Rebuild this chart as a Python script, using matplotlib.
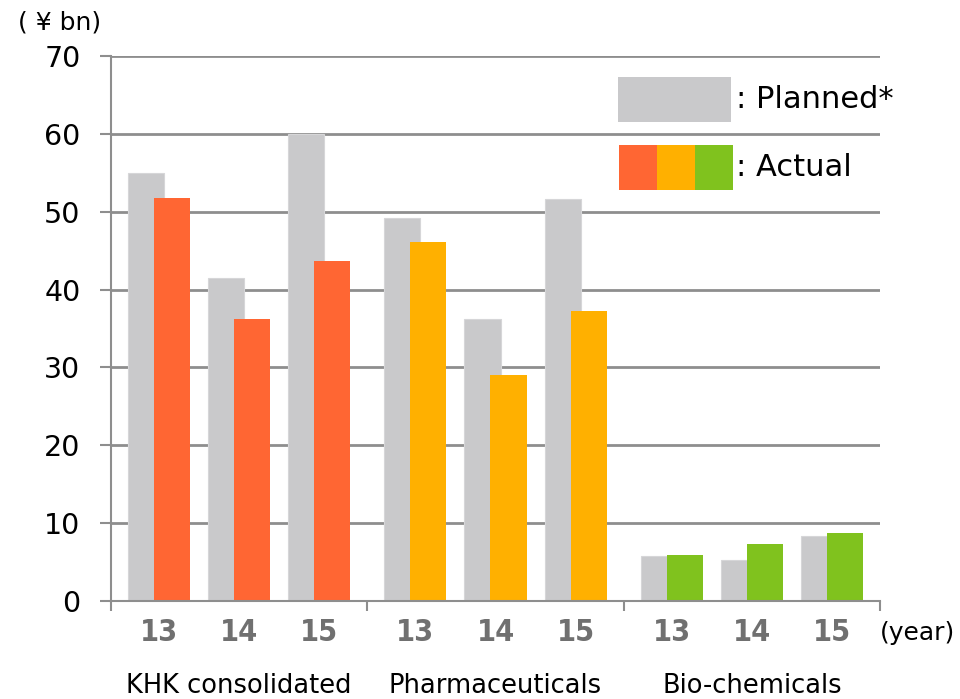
import matplotlib
matplotlib.use("Agg")
import matplotlib.pyplot as plt
from matplotlib.patches import Rectangle

# Data (¥ bn)
groups = ["KHK consolidated", "Pharmaceuticals", "Bio-chemicals"]
years = ["13", "14", "15"]
planned = [[55.0, 41.5, 60.0], [49.2, 36.2, 51.6], [5.8, 5.3, 8.3]]
actual = [[51.8, 36.2, 43.7], [46.1, 29.0, 37.2], [5.9, 7.3, 8.7]]
y_ticks = [0, 10, 20, 30, 40, 50, 60, 70]

planned_color = "#C9C9CB"
actual_colors = ["#FF6633", "#FFB000", "#80C21E"]
axis_color = "#8E8E8E"

fig = plt.figure(figsize=(9.6, 6.99), dpi=100)
ax = fig.add_axes([0.1156, 0.1402, 0.8011, 0.7797])

group_width = 3.2
bar_w = 0.45
offset = 0.1625

for g in range(len(groups)):
    for k in range(len(years)):
        c = g * group_width + 0.6 + k
        ax.bar(c - offset, planned[g][k], width=bar_w, color=planned_color,
               edgecolor="#D6D6D8", linewidth=0.8, zorder=2)
        ax.bar(c + offset, actual[g][k], width=bar_w, color=actual_colors[g],
               linewidth=0, zorder=3)
        ax.text(c, -2.2, years[k], ha="center", va="top", fontsize=22,
                fontweight="bold", color="#707070", fontstretch="condensed")
    ax.text(g * group_width + 1.6, -9.3, groups[g], ha="center", va="top",
            fontsize=18.5, color="black")

ax.set_xlim(0, 3 * group_width)
ax.set_ylim(0, 70)
ax.set_yticks(y_ticks)
ax.set_yticklabels([str(v) for v in y_ticks], fontsize=20.5)
ax.set_xticks([g * group_width for g in range(4)])
ax.set_xticklabels([])
ax.tick_params(axis="x", length=7, width=1.5, color=axis_color, direction="out")
ax.tick_params(axis="y", length=8, width=1.5, color=axis_color, direction="out", pad=14)
ax.yaxis.grid(True, color=axis_color, linewidth=2)
ax.set_axisbelow(True)
for side in ["top", "right"]:
    ax.spines[side].set_visible(False)
for side in ["left", "bottom"]:
    ax.spines[side].set_color(axis_color)
    ax.spines[side].set_linewidth(1.5)
    ax.spines[side].set_zorder(4)

# Legend built from patches
ax.add_patch(Rectangle((6.325, 61.5), 1.42, 5.8, facecolor=planned_color,
                       edgecolor="none", zorder=5, clip_on=False))
seg = 1.42 / 3
for i, col in enumerate(actual_colors):
    ax.add_patch(Rectangle((6.34 + i * seg, 52.8), seg, 5.8, facecolor=col,
                           edgecolor="none", zorder=5, clip_on=False))
ax.text(7.8, 64.4, ": Planned*", fontsize=22, va="center", ha="left", zorder=6)
ax.text(7.8, 55.7, ": Actual", fontsize=22, va="center", ha="left", zorder=6)

fig.text(0.019, 0.968, "( \u00a5 bn)", fontsize=18, va="center", ha="left")
fig.text(0.917, 0.094, "(year)", fontsize=18, va="center", ha="left")

fig.savefig("out.png", dpi=100)
